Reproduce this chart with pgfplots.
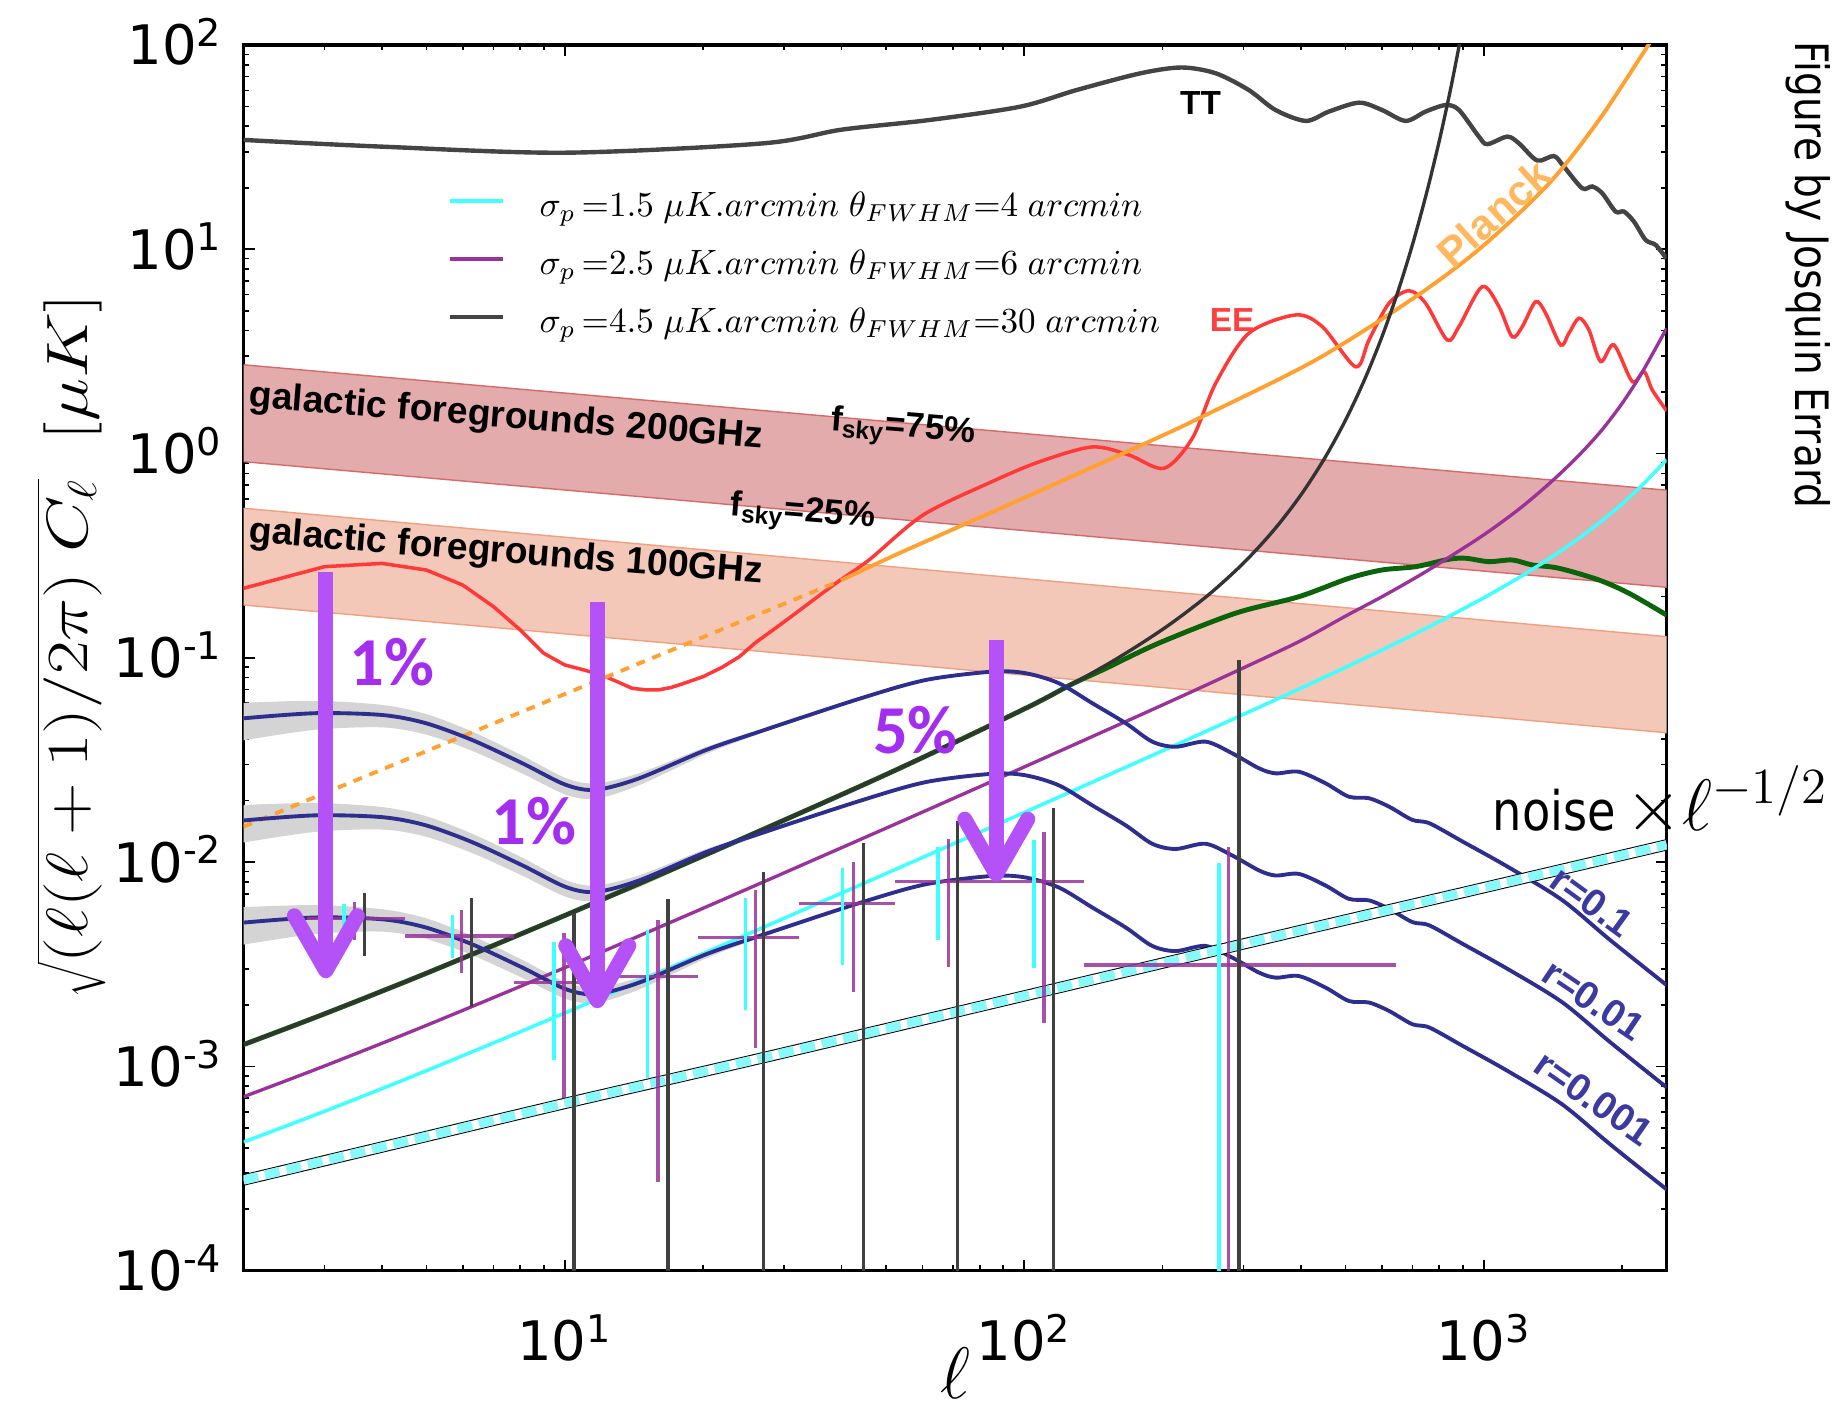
\documentclass[border=0pt]{standalone}
\usepackage{graphicx}
\usepackage{fontspec}
\setmainfont{Liberation Sans}
\newfontfamily\tickfont{DejaVu Sans}
\newfontfamily\condfont[FakeStretch=0.85]{DejaVu Sans}
\newfontfamily\calfont{Carlito}
\usepackage{pgfplots}
\pgfplotsset{compat=1.18}
\usepackage{pgfplotstable}
\usepgfplotslibrary{fillbetween}
\usetikzlibrary{arrows.meta}

\definecolor{ttgray}{HTML}{444444}
\definecolor{eered}{HTML}{FF3838}
\definecolor{planck}{HTML}{FFA030}
\definecolor{noiseblk}{HTML}{333333}
\definecolor{lensgreen}{HTML}{0B640B}
\definecolor{noisepur}{HTML}{993399}
\definecolor{noisecyan}{HTML}{40FFFF}
\definecolor{bbblue}{HTML}{2E2E8E}
\definecolor{cvgray}{HTML}{D4D4D4}
\definecolor{band200}{HTML}{E3ABAB}
\definecolor{edge200}{HTML}{D46A6A}
\definecolor{band100}{HTML}{F4C8B8}
\definecolor{edge100}{HTML}{F0A080}
\definecolor{errblk}{HTML}{404040}
\definecolor{arrowpur}{HTML}{B452F8}
\definecolor{pctpur}{HTML}{A42EF0}
\definecolor{lightcyan}{HTML}{88F8F8}
\definecolor{plancklabel}{HTML}{FFB860}
\definecolor{eelabel}{HTML}{FF4040}
\definecolor{rlabel}{HTML}{3A3AA0}

\pgfplotstableread{
l v
2 34.3
4 31.8
10 29.7
27 33.0
40 38.5
62 42.9
98 49.9
130 60.2
179 72.7
220 77.6
261 72.7
308 60.2
352 48.1
410 42.5
460 47.2
535 52.2
600 48.1
676 42.5
747 47.2
826 50.8
883 48.1
976 35.6
1018 32.7
1125 35.6
1193 33.0
1307 27.2
1421 28.6
1494 25.4
1638 19.9
1722 20.3
1811 18.8
1936 15.3
2019 15.3
2123 13.65
2251 11.1
2366 10.5
2500 9.0
}\TTtab

\pgfplotstableread{
l v
2 0.219
3 0.2795
4 0.290
5 0.269
6 0.227
7 0.178
8 0.137
9 0.1053
10 0.0923
11 0.0873
12 0.0825
13 0.0765
14 0.0710
15 0.0697
16 0.0697
17 0.0715
18 0.0745
20 0.0809
22 0.0899
24 0.1014
26 0.1187
}\EElow

\pgfplotstableread{
l v
26 0.1187
30 0.150
38.9 0.2318
45.9 0.301
60.2 0.50
83.8 0.718
107.6 0.910
140.4 1.077
169 0.984
201.4 0.847
232.1 1.188
261 2.21
308 3.88
389.6 4.77
445.3 4.18
526.4 2.66
562.6 3.60
621.9 5.44
687.7 6.27
747.4 5.44
832.5 3.60
883 4.18
992 6.56
1079 5.24
1153 3.73
1213 4.18
1297 5.54
1364 4.86
1470 3.40
1532 3.88
1612 4.60
1694 4.03
1797 2.82
1920 3.40
2105 2.25
2232 2.52
2326 2.05
2500 1.62
}\EEhigh

\pgfplotstableread{
l v
2 0.01492
10 0.0665
40 0.240
}\PlanckLow

\pgfplotstableread{
l v
40 0.240
53.4 0.325
97.6 0.593
186.8 1.143
244 1.516
430.7 2.87
711 5.86
992 10.3
1387 21.0
1781 42.9
2269 98.1
2400 119
}\PlanckHigh

\pgfplotstableread{
l v
2 0.001279
3 0.001809
5 0.00286
10 0.005481
20 0.010731
50 0.02683
100 0.05621
150 0.09172
200 0.1378
250 0.2009
300 0.2911
350 0.4245
400 0.6275
450 0.945
500 1.455
550 2.295
600 3.716
650 6.182
700 10.58
750 18.66
800 33.87
850 63.4
900 122.5
}\NoiseBlk

\pgfplotstableread{
l v
2 0.001279
3 0.001809
5 0.00286
10 0.005481
20 0.010731
50 0.02683
100 0.05621
127 0.0744
150 0.0885
196 0.1179
288 0.1653
396 0.1993
509 0.2453
601 0.2693
711 0.2795
840 0.3039
913 0.3073
1026 0.2958
1153 0.3014
1275 0.2849
1457 0.2746
1781 0.2405
2070 0.2071
2500 0.162
}\Lens

\pgfplotstableread{
l v
2 0.0007106
3 0.001005
5 0.001589
10 0.003043
20 0.005946
50 0.01466
100 0.02924
200 0.05881
300 0.08936
400 0.1214
500 0.160
600 0.199
700 0.242
800 0.290
1000 0.400
1200 0.540
1400 0.725
1600 0.965
1800 1.29
2000 1.76
2200 2.45
2500 4.10
}\NoisePur

\pgfplotstableread{
l v
2 0.0004264
3 0.000603
5 0.000953
10 0.001826
20 0.003567
50 0.008789
100 0.01751
200 0.03507
300 0.05288
400 0.07109
500 0.08981
600 0.10922
700 0.12945
800 0.15066
1000 0.19674
1200 0.2491
1400 0.3097
1600 0.3808
1800 0.4655
2000 0.5675
2200 0.6916
2500 0.9335
}\NoiseCyan

\pgfplotstableread{
l v
2 0.000278
4 0.000403
10.38 0.000672
26.5 0.001092
100 0.002214
358 0.004368
1000 0.0075
2500 0.01215
}\NoiseHalf

\pgfplotstableread{
l a b c up lo
2 0.0506 0.0160 0.00506 1.19 0.78
2.87 0.0536 0.01695 0.00536 1.15 0.83
4.01 0.0525 0.0166 0.00525 1.12 0.87
4.98 0.0479 0.01515 0.00479 1.11 0.88
6.29 0.0396 0.01252 0.00396 1.10 0.885
8.08 0.0305 0.00965 0.00305 1.09 0.89
10.05 0.0239 0.00756 0.00239 1.08 0.895
11.68 0.0226 0.00715 0.00226 1.075 0.905
14.5 0.0257 0.00813 0.00257 1.06 0.925
20.3 0.0354 0.0112 0.00354 1.035 0.955
26.5 0.0435 0.01376 0.00435 1.02 0.975
43.7 0.0630 0.0199 0.0063 1.0 1.0
}\CVtab

\pgfplotstableread{
l a b c
2 0.0506 0.0160 0.00506
2.87 0.0536 0.01695 0.00536
4.01 0.0525 0.0166 0.00525
4.98 0.0479 0.01515 0.00479
6.29 0.0396 0.01252 0.00396
8.08 0.0305 0.00965 0.00305
10.05 0.0239 0.00756 0.00239
11.68 0.0226 0.00715 0.00226
14.5 0.0257 0.00813 0.00257
20.3 0.0354 0.0112 0.00354
26.5 0.0435 0.01376 0.00435
43.7 0.0630 0.0199 0.0063
61 0.0779 0.02464 0.00779
85.2 0.0856 0.02707 0.00856
100.7 0.0841 0.0266 0.00841
119 0.0751 0.02375 0.00751
140.6 0.0600 0.01897 0.0060
166.2 0.0479 0.01515 0.00479
189.9 0.0389 0.0123 0.00389
213.5 0.0367 0.0116 0.00367
248.1 0.0389 0.0123 0.00389
283.5 0.0341 0.01078 0.00341
324.2 0.0288 0.00911 0.00288
352.5 0.0272 0.0086 0.00272
396 0.0277 0.00876 0.00277
452.8 0.0243 0.00768 0.00243
508.8 0.0209 0.00661 0.00209
562.5 0.02055 0.0065 0.002055
621.9 0.0187 0.00591 0.00187
698.9 0.0161 0.00509 0.00161
761.6 0.0155 0.0049 0.00155
900 0.0126 0.00398 0.00126
1127 0.0095 0.003 0.00095
1480 0.00653 0.002065 0.000653
1883 0.00416 0.001316 0.000416
2500 0.00250 0.00079 0.00025
}\BBtab

\begin{document}
\begin{tikzpicture}
\begin{axis}[
  at={(0,0)}, anchor=south west,
  scale only axis, width=142.3mm, height=122.57mm,
  xmode=log, ymode=log,
  xmin=2, xmax=2500, ymin=1e-4, ymax=100,
  axis line style={line width=1pt},
  tick align=inside,
  major tick length=1.1mm, minor tick length=0.55mm,
  every tick/.append style={line width=0.45pt, black},
  xtick={10,100,1000},
  xticklabels={10\textsuperscript{1},10\textsuperscript{2},10\textsuperscript{3}},
  minor xtick={2,3,4,5,6,7,8,9,20,30,40,50,60,70,80,90,200,300,400,500,600,700,800,900,2000},
  ytick={1e-4,1e-3,1e-2,1e-1,1,10,100},
  yticklabels={10\textsuperscript{-4},10\textsuperscript{-3},10\textsuperscript{-2},10\textsuperscript{-1},10\textsuperscript{0},10\textsuperscript{1},10\textsuperscript{2}},
  minor ytick={2e-4,3e-4,4e-4,5e-4,6e-4,7e-4,8e-4,9e-4,2e-3,3e-3,4e-3,5e-3,6e-3,7e-3,8e-3,9e-3,0.02,0.03,0.04,0.05,0.06,0.07,0.08,0.09,0.2,0.3,0.4,0.5,0.6,0.7,0.8,0.9,2,3,4,5,6,7,8,9,20,30,40,50,60,70,80,90},
  xticklabel style={font=\tickfont\fontsize{15.5}{17}\selectfont, anchor=base, inner sep=0pt, yshift=-9mm},
  yticklabel style={font=\tickfont\fontsize{15.5}{17}\selectfont, anchor=base east, inner sep=0pt, xshift=-2mm, yshift=-2mm},
  xlabel={$\ell$},
  ylabel={\scalebox{1}[0.8]{$\sqrt{(\ell(\ell+1)/2\pi)\ C_\ell}\ \ [\mu K]$}},
  xlabel style={at={(axis description cs:0.5,-0.084)}, anchor=center, font=\fontsize{20}{22}\selectfont},
  ylabel style={at={(axis description cs:-0.121,0.509)}, anchor=center, font=\fontsize{20}{22}\selectfont},
  unbounded coords=jump,
  legend style={draw=none, fill=none, at={(axis description cs:0.1429,0.8188)}, anchor=west,
    row sep=2.8mm, column sep=3.5mm, inner sep=0pt, font=\fontsize{9.7}{11.5}\selectfont,
    nodes={inner sep=0pt, text height=2.2mm, text depth=0.8mm}},
  legend cell align=left,
  legend image code/.code={\draw[#1] (0mm,0.8mm) -- (5.3mm,0.8mm);},
]
\addlegendimage{noisecyan, line width=1.1pt}
\addlegendentry{$\sigma_p\,{=}1.5\ \mu K.arcmin\ \theta_{FWHM}{=}4\ arcmin$}
\addlegendimage{noisepur, line width=1.1pt}
\addlegendentry{$\sigma_p\,{=}2.5\ \mu K.arcmin\ \theta_{FWHM}{=}6\ arcmin$}
\addlegendimage{ttgray, line width=1.1pt}
\addlegendentry{$\sigma_p\,{=}4.5\ \mu K.arcmin\ \theta_{FWHM}{=}30\ arcmin$}

% galactic foreground bands
\addplot[fill=band200, draw=none, forget plot] coordinates {(2,2.72) (2500,0.662) (2500,0.2216) (2,0.913)} -- cycle;
\addplot[edge200, line width=0.4pt, forget plot] coordinates {(2,2.72) (2500,0.662)};
\addplot[edge200, line width=0.4pt, forget plot] coordinates {(2,0.913) (2500,0.2216)};
\addplot[fill=band100, draw=none, forget plot] coordinates {(2,0.540) (2500,0.127) (2500,0.0430) (2,0.1815)} -- cycle;
\addplot[edge100, line width=0.4pt, forget plot] coordinates {(2,0.540) (2500,0.127)};
\addplot[edge100, line width=0.4pt, forget plot] coordinates {(2,0.1815) (2500,0.0430)};

% cosmic variance gray bands
\addplot[draw=none, smooth, name path=ua, forget plot] table[x=l, y expr={\thisrow{a}*\thisrow{up}}] {\CVtab};
\addplot[draw=none, smooth, name path=la, forget plot] table[x=l, y expr={\thisrow{a}*\thisrow{lo}}] {\CVtab};
\addplot[cvgray, forget plot] fill between[of=ua and la];
\addplot[draw=none, smooth, name path=ub, forget plot] table[x=l, y expr={\thisrow{b}*\thisrow{up}}] {\CVtab};
\addplot[draw=none, smooth, name path=lb, forget plot] table[x=l, y expr={\thisrow{b}*\thisrow{lo}}] {\CVtab};
\addplot[cvgray, forget plot] fill between[of=ub and lb];
\addplot[draw=none, smooth, name path=uc, forget plot] table[x=l, y expr={\thisrow{c}*\thisrow{up}}] {\CVtab};
\addplot[draw=none, smooth, name path=lc, forget plot] table[x=l, y expr={\thisrow{c}*\thisrow{lo}}] {\CVtab};
\addplot[cvgray, forget plot] fill between[of=uc and lc];

% TT, EE, Planck
\addplot[ttgray, line width=1.25pt, smooth, forget plot] table[x=l,y=v] {\TTtab};
\addplot[eered, line width=1pt, forget plot] table[x=l,y=v] {\EElow};
\addplot[eered, line width=1pt, smooth, forget plot] table[x=l,y=v] {\EEhigh};
\addplot[planck, line width=1.1pt, dash pattern=on 0.9mm off 0.8mm, forget plot] table[x=l,y=v] {\PlanckLow};
\addplot[planck, line width=1.1pt, smooth, forget plot] table[x=l,y=v] {\PlanckHigh};

% noise curves
\addplot[lensgreen, line width=1.4pt, smooth, forget plot] table[x=l,y=v] {\Lens};
\addplot[noiseblk, line width=0.95pt, smooth, forget plot] table[x=l,y=v] {\NoiseBlk};
\addplot[noisepur, line width=0.95pt, smooth, forget plot] table[x=l,y=v] {\NoisePur};
\addplot[noisecyan, line width=1pt, smooth, forget plot] table[x=l,y=v] {\NoiseCyan};

% BB curves
\addplot[bbblue, line width=1.1pt, smooth, forget plot] table[x=l,y=a] {\BBtab};
\addplot[bbblue, line width=1.1pt, smooth, forget plot] table[x=l,y=b] {\BBtab};
\addplot[bbblue, line width=1.1pt, smooth, forget plot] table[x=l,y=c] {\BBtab};

% noise x ell^-1/2
\addplot[black, line width=3.2pt, smooth, forget plot] table[x=l,y=v] {\NoiseHalf};
\addplot[white, line width=2.6pt, smooth, forget plot] table[x=l,y=v] {\NoiseHalf};
\addplot[lightcyan, line width=2.6pt, smooth, dash pattern=on 1.5mm off 0.7mm, forget plot] table[x=l,y=v] {\NoiseHalf};

% error bars
\addplot[noisepur, opacity=0.85, line width=1pt, forget plot] coordinates {
(2.75,0.00531) (4.49,0.00531) (4.49,nan)
(4.49,0.00435) (7.75,0.00435) (7.75,nan)
(7.75,0.00258) (12.9,0.00258) (12.9,nan)
(12.9,0.00275) (19.5,0.00275) (19.5,nan)
(19.5,0.00427) (32.4,0.00427) (32.4,nan)
(32.4,0.00629) (52.3,0.00629) (52.3,nan)
(52.3,0.00802) (85.2,0.00802) (85.2,nan)
(85.2,0.00802) (135,0.00802) (135,nan)
(135,0.00314) (644,0.00314)
};
\addplot[noisecyan, line width=0.95pt, forget plot] coordinates {
(3.31,0.00625) (3.31,0.00455) (3.31,nan)
(5.69,0.00551) (5.69,0.00339) (5.69,nan)
(9.47,0.00408) (9.47,0.001076) (9.47,nan)
(15.12,0.00466) (15.12,0.000876) (15.12,nan)
(24.7,0.00666) (24.7,0.00189) (24.7,nan)
(40.2,0.00934) (40.2,0.00314) (40.2,nan)
(64.9,0.0119) (64.9,0.00416) (64.9,nan)
(105,0.01285) (105,0.00302) (105,nan)
(265.3,0.00988) (265.3,1e-5)
};
\addplot[noisepur, opacity=0.85, line width=0.9pt, forget plot] coordinates {
(3.49,0.0064) (3.49,0.00416) (3.49,nan)
(5.97,0.00582) (5.97,0.00286) (5.97,nan)
(9.96,0.00449) (9.96,0.000699) (9.96,nan)
(15.95,0.00521) (15.95,0.000273) (15.95,nan)
(26.0,0.00731) (26.0,0.001228) (26.0,nan)
(42.5,0.01006) (42.5,0.00232) (42.5,nan)
(68.3,0.01295) (68.3,0.00308) (68.3,nan)
(110.4,0.0141) (110.4,0.001628) (110.4,nan)
(278.5,0.0119) (278.5,1e-5)
};
\addplot[errblk, line width=0.9pt, forget plot] coordinates {
(3.66,0.00709) (3.66,0.00348) (3.66,nan)
(6.27,0.00666) (6.27,0.00196) (6.27,nan)
(10.47,0.00562) (10.47,1e-5) (10.47,nan)
(16.77,0.00658) (16.77,1e-5) (16.77,nan)
(27.1,0.00899) (27.1,1e-5) (27.1,nan)
(44.6,0.01238) (44.6,1e-5) (44.6,nan)
(71.7,0.01596) (71.7,1e-5) (71.7,nan)
(116,0.01835) (116,1e-5) (116,nan)
(293.3,0.0976) (293.3,1e-5)
};

% arrows
\draw[arrowpur, line width=1.5mm, -{Straight Barb[length=5.5mm, width=6.3mm, line cap=round, line join=round]}] (axis cs:3.02,0.264) -- (axis cs:3.02,0.0027);
\draw[arrowpur, line width=1.5mm, -{Straight Barb[length=5.5mm, width=6.3mm, line cap=round, line join=round]}] (axis cs:11.77,0.1884) -- (axis cs:11.77,0.001927);
\draw[arrowpur, line width=1.5mm, -{Straight Barb[length=5.5mm, width=6.3mm, line cap=round, line join=round]}] (axis cs:86.9,0.1224) -- (axis cs:86.9,0.00802);

% labels
\node[text=pctpur, font=\calfont\bfseries\fontsize{19.5}{20}\selectfont] at (axis cs:4.21,0.0958) {1\%};
\node[text=pctpur, font=\calfont\bfseries\fontsize{19.5}{20}\selectfont] at (axis cs:8.57,0.01579) {1\%};
\node[text=pctpur, font=\calfont\bfseries\fontsize{19.5}{20}\selectfont] at (axis cs:58.0,0.0444) {5\%};

\node[font=\bfseries\fontsize{10.6}{12}\selectfont, rotate=-4.6] at (axis cs:7.45,1.494) {galactic foregrounds 200GHz};
\node[font=\bfseries\fontsize{10.6}{12}\selectfont, rotate=-4.6] at (axis cs:7.45,0.325) {galactic foregrounds 100GHz};
\node[font=\bfseries\fontsize{10}{12}\selectfont, rotate=-4.6] at (axis cs:54.5,1.312) {f\textsubscript{sky}=75\%};
\node[font=\bfseries\fontsize{10}{12}\selectfont, rotate=-4.6] at (axis cs:32.9,0.505) {f\textsubscript{sky}=25\%};
\node[font=\bfseries\fontsize{9.5}{11}\selectfont] at (axis cs:242,51.8) {TT};
\node[text=eelabel, font=\bfseries\fontsize{9.5}{11}\selectfont] at (axis cs:283.5,4.51) {EE};
\node[text=plancklabel, font=\bfseries\fontsize{12}{14}\selectfont, rotate=42, inner sep=0pt] at (axis cs:1050,15.0) {Planck};
\node[text=rlabel, font=\bfseries\fontsize{11}{13}\selectfont, rotate=-36] at (axis cs:1720,0.0064) {r=0.1};
\node[text=rlabel, font=\bfseries\fontsize{11}{13}\selectfont, rotate=-34] at (axis cs:1737,0.002116) {r=0.01};
\node[text=rlabel, font=\bfseries\fontsize{11}{13}\selectfont, rotate=-35] at (axis cs:1737,0.000699) {r=0.001};
\end{axis}
\node[anchor=base west, inner sep=0pt] at (124.84mm,44.07mm) {{\condfont\fontsize{15.5}{17}\selectfont noise} {\fontsize{22}{24}\selectfont$\times\ell^{-1/2}$}};
\node[rotate=-90, inner sep=0pt, font=\condfont\fontsize{13.1}{15}\selectfont] at (156.44mm,99.57mm) {Figure by Josquin Errard};
\pgfresetboundingbox
\path[use as bounding box] (-24.36mm,-14.03mm) rectangle (160.14mm,127.07mm);
\end{tikzpicture}
\end{document}
